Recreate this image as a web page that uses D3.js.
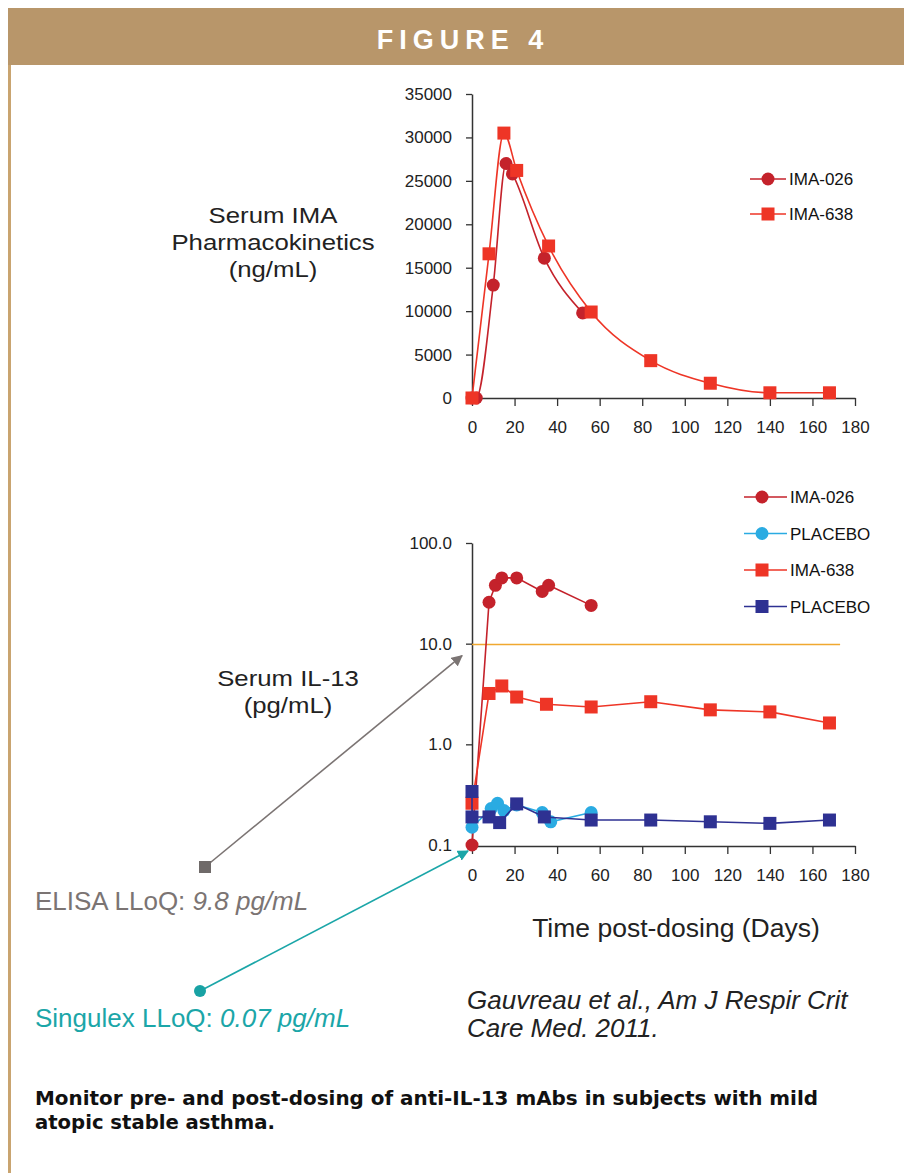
<!DOCTYPE html>
<html>
<head>
<meta charset="utf-8">
<script src="https://cdn.jsdelivr.net/npm/d3@7"></script>
<style>
  body { margin: 0; background: #fff; }
  text { font-family: "Liberation Sans", Arial, sans-serif; }
</style>
</head>
<body>
<svg id="fig" width="904" height="1173"></svg>
<script>
// ---- data ----
const xTicks = [0, 20, 40, 60, 80, 100, 120, 140, 160, 180];

// top panel: serum IMA pharmacokinetics (ng/mL)
const pkDays026 = [0, 2, 10, 16, 19, 34, 52];
const pkVals026 = [0, 0, 13000, 27000, 25800, 16100, 9800];
const pkDays638 = [0, 8, 15, 21, 36, 56, 84, 112, 140, 168];
const pkVals638 = [0, 16600, 30500, 26200, 17500, 9900, 4300, 1700, 600, 600];
const pkTicks = [0, 5000, 10000, 15000, 20000, 25000, 30000, 35000];

// bottom panel: serum IL-13 (pg/mL), log scale
const ilDays026 = [0, 8, 11, 14, 21, 33, 36, 56];
const ilVals026 = [0.1, 25.8, 38, 45, 45, 33, 38, 24];
const ilDaysPboLight = [0, 9, 12, 15, 21, 33, 37, 56];
const ilValsPboLight = [0.15, 0.23, 0.26, 0.22, 0.25, 0.21, 0.17, 0.21];
const ilDays638 = [0, 8, 14, 21, 35, 56, 84, 112, 140, 168];
const ilVals638 = [0.26, 3.2, 3.8, 2.95, 2.5, 2.35, 2.65, 2.2, 2.1, 1.63];
const ilDaysPboDark = [0, 0, 8, 13, 21, 34, 56, 84, 112, 140, 168];
const ilValsPboDark = [0.34, 0.19, 0.19, 0.167, 0.256, 0.19, 0.177, 0.177, 0.17, 0.164, 0.177];
const ilTicks = [0.1, 1, 10, 100];
const elisaLLoQ = 9.8;

const C026 = "#c4222b", C638 = "#ee3526", CPL = "#2aabe2", CPD = "#2e3192";

const svg = d3.select("#fig");

// ---- frame ----
svg.append("rect").attr("x", 8).attr("y", 8).attr("width", 896).attr("height", 57).attr("fill", "#b8966a");
svg.append("rect").attr("x", 8).attr("y", 65).attr("width", 3).attr("height", 1108).attr("fill", "#c9a470");
svg.append("text").attr("x", 463).attr("y", 49).attr("text-anchor", "middle")
  .attr("fill", "#fff").style("font-size", "27px").style("font-weight", "bold").style("letter-spacing", "6px")
  .text("FIGURE 4");

const x = d3.scaleLinear().domain([0, 180]).range([472, 855]);
const yTop = d3.scaleLinear().domain([0, 35000]).range([398, 94]);
const yBot = d3.scaleLog().domain([0.1, 100]).range([845, 543]);

function styleAxis(g) {
  g.select(".domain").attr("stroke", "#333").attr("stroke-width", 1.5);
  g.selectAll(".tick line").attr("stroke", "#333").attr("stroke-width", 1.3);
  g.selectAll("text").style("font-size", "17px").style("font-family", "'Liberation Sans', Arial, sans-serif").attr("fill", "#222");
}
function drawXAxis(yPos) {
  const g = svg.append("g").attr("transform", `translate(0,${yPos})`)
    .call(d3.axisBottom(x).tickValues(xTicks).tickSize(8).tickPadding(15).tickSizeOuter(0).tickFormat(d3.format("d")));
  styleAxis(g);
}
function drawYAxis(scale, ticks, fmt) {
  const g = svg.append("g").attr("transform", "translate(472,0)")
    .call(d3.axisLeft(scale).tickValues(ticks).tickSize(6).tickPadding(14).tickSizeOuter(0).tickFormat(fmt));
  styleAxis(g);
}

function series(days, vals, yScale, color, shape, curve) {
  const pts = days.map((d, i) => [d, vals[i]]);
  const line = d3.line().x(d => x(d[0])).y(d => yScale(d[1])).curve(curve || d3.curveLinear);
  svg.append("path").datum(pts).attr("d", line)
    .attr("fill", "none").attr("stroke", color).attr("stroke-width", 1.6);
  const g = svg.append("g");
  pts.forEach(p => marker(g, x(p[0]), yScale(p[1]), color, shape));
}
function marker(g, cx, cy, color, shape) {
  if (shape === "circle") {
    g.append("circle").attr("cx", cx).attr("cy", cy).attr("r", 6.5).attr("fill", color);
  } else {
    g.append("rect").attr("x", cx - 6.5).attr("y", cy - 6.5).attr("width", 13).attr("height", 13).attr("fill", color);
  }
}
function legend(items, mx, ly, step, tx) {
  items.forEach((it, i) => {
    const yy = ly + i * step;
    svg.append("line").attr("x1", mx - 18).attr("x2", tx - 3).attr("y1", yy).attr("y2", yy)
      .attr("stroke", it.color).attr("stroke-width", 1.6);
    marker(svg, mx, yy, it.color, it.shape);
    svg.append("text").attr("x", tx).attr("y", yy + 6).style("font-size", "17px")
      .attr("fill", "#111").text(it.name);
  });
}
// stacked, slightly widened title lines (the source text is stretched horizontally)
function title(lines, cx, y0, step) {
  lines.forEach((s, i) =>
    svg.append("g").attr("transform", `translate(${cx},${y0 + i * step}) scale(1.12,1)`)
      .append("text").attr("text-anchor", "middle").style("font-size", "23px")
      .attr("fill", "#222").text(s));
}

// ---- top panel ----
drawYAxis(yTop, pkTicks, d3.format("d"));
drawXAxis(398);
series(pkDays026, pkVals026, yTop, C026, "circle", d3.curveMonotoneX);
series(pkDays638, pkVals638, yTop, C638, "square", d3.curveMonotoneX);
legend([{ name: "IMA-026", color: C026, shape: "circle" },
        { name: "IMA-638", color: C638, shape: "square" }], 768, 179, 35, 789);

title(["Serum IMA", "Pharmacokinetics", "(ng/mL)"], 273, 223, 27);

// ---- bottom panel ----
drawYAxis(yBot, ilTicks, d3.format(".1f"));
drawXAxis(846);
svg.append("line").attr("x1", x(0)).attr("x2", x(173))
  .attr("y1", yBot(elisaLLoQ)).attr("y2", yBot(elisaLLoQ))
  .attr("stroke", "#f0a830").attr("stroke-width", 1.5);
series(ilDays026, ilVals026, yBot, C026, "circle");
series(ilDaysPboLight, ilValsPboLight, yBot, CPL, "circle");
series(ilDays638, ilVals638, yBot, C638, "square");
series(ilDaysPboDark, ilValsPboDark, yBot, CPD, "square");
legend([{ name: "IMA-026", color: C026, shape: "circle" },
        { name: "PLACEBO", color: CPL, shape: "circle" },
        { name: "IMA-638", color: C638, shape: "square" },
        { name: "PLACEBO", color: CPD, shape: "square" }], 762, 497, 36.5, 790);

title(["Serum IL-13", "(pg/mL)"], 288, 686, 27);

svg.append("text").attr("x", 676).attr("y", 937).attr("text-anchor", "middle")
  .style("font-size", "26.5px").attr("fill", "#222").text("Time post-dosing (Days)");

// ---- LLoQ annotations ----
const defs = svg.append("defs");
[["arrGray", "#7b7473"], ["arrTeal", "#1ba6a8"]].forEach(([id, c]) => {
  defs.append("marker").attr("id", id).attr("viewBox", "0 0 10 10").attr("refX", 9).attr("refY", 5)
    .attr("markerWidth", 7).attr("markerHeight", 7).attr("orient", "auto")
    .append("path").attr("d", "M0,0L10,5L0,10z").attr("fill", c);
});
svg.append("line").attr("x1", 205).attr("y1", 867).attr("x2", x(0) - 10).attr("y2", yBot(10) + 12)
  .attr("stroke", "#7b7473").attr("stroke-width", 1.6).attr("marker-end", "url(#arrGray)");
svg.append("rect").attr("x", 199).attr("y", 861).attr("width", 12).attr("height", 12).attr("fill", "#6f6a69");
svg.append("line").attr("x1", 200).attr("y1", 991).attr("x2", x(0) - 4).attr("y2", yBot(0.1) + 6)
  .attr("stroke", "#1ba6a8").attr("stroke-width", 1.6).attr("marker-end", "url(#arrTeal)");
svg.append("circle").attr("cx", 200).attr("cy", 991).attr("r", 6).attr("fill", "#18a2a4");

const e = svg.append("text").attr("x", 35).attr("y", 910).style("font-size", "26px").attr("fill", "#7b7473");
e.append("tspan").text("ELISA LLoQ: ");
e.append("tspan").style("font-style", "italic").text("9.8 pg/mL");
const s = svg.append("text").attr("x", 35).attr("y", 1027).style("font-size", "26px").attr("fill", "#1ba6a8");
s.append("tspan").text("Singulex LLoQ: ");
s.append("tspan").style("font-style", "italic").text("0.07 pg/mL");

const cit = svg.append("text").style("font-size", "26px").style("font-style", "italic").attr("fill", "#222");
["Gauvreau et al., Am J Respir Crit", "Care Med. 2011."].forEach((t, i) =>
  cit.append("tspan").attr("x", 467).attr("y", 1009 + i * 28).text(t));

// ---- caption ----
const capLines = ["Monitor pre- and post-dosing of anti-IL-13 mAbs in subjects with mild", "atopic stable asthma."];
const capWidths = [783, 240];
capLines.forEach((t, i) =>
  svg.append("text").attr("x", 35).attr("y", 1105 + i * 24)
    .attr("textLength", capWidths[i]).attr("lengthAdjust", "spacingAndGlyphs")
    .style("font-size", "19px").style("font-weight", "bold").attr("fill", "#111")
    .style("font-family", "'DejaVu Sans', sans-serif").text(t));
</script>
</body>
</html>
